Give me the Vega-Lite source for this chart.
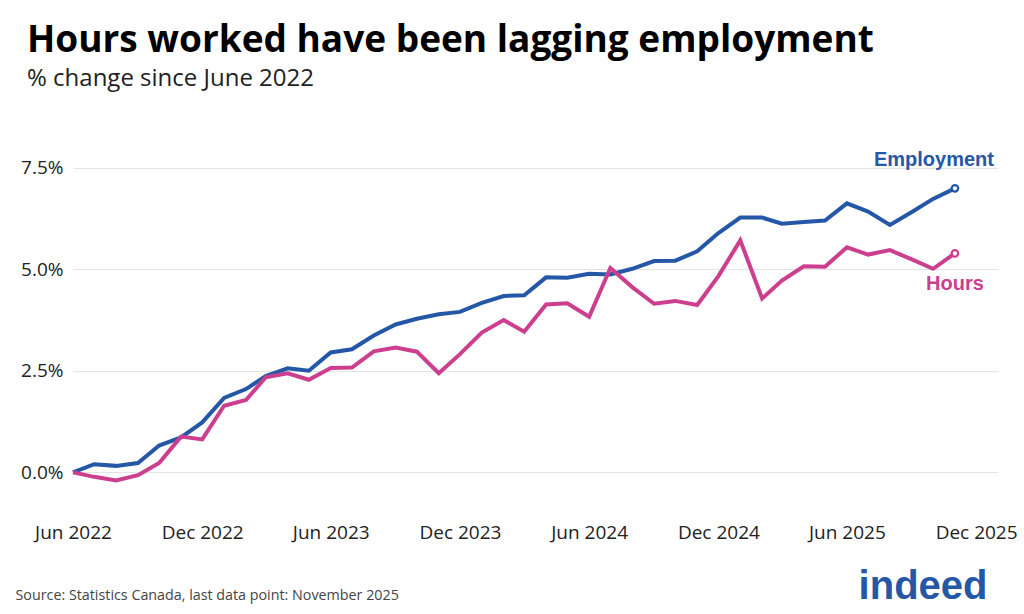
{
  "$schema": "https://vega.github.io/schema/vega-lite/v6.json",
  "width": 925,
  "height": 386,
  "autosize": {"type": "none"},
  "padding": {"left": 73, "top": 127, "right": 26, "bottom": 101},
  "background": "white",
  "title": {
    "text": "Hours worked have been lagging employment",
    "subtitle": "% change since June 2022",
    "anchor": "start",
    "frame": "group",
    "dx": -46,
    "font": "Open Sans",
    "fontSize": 37,
    "fontWeight": "bold",
    "color": "#000000",
    "subtitleFont": "Open Sans",
    "subtitleFontSize": 24,
    "subtitleColor": "#222222",
    "subtitlePadding": 7,
    "offset": 35
  },
  "data": {
    "values": [
      {"date": "2022-06-01", "Employment": 0.00, "Hours": 0.00},
      {"date": "2022-07-01", "Employment": 0.20, "Hours": -0.11},
      {"date": "2022-08-01", "Employment": 0.16, "Hours": -0.20},
      {"date": "2022-09-01", "Employment": 0.23, "Hours": -0.07},
      {"date": "2022-10-01", "Employment": 0.66, "Hours": 0.23},
      {"date": "2022-11-01", "Employment": 0.86, "Hours": 0.88},
      {"date": "2022-12-01", "Employment": 1.23, "Hours": 0.81},
      {"date": "2023-01-01", "Employment": 1.83, "Hours": 1.64},
      {"date": "2023-02-01", "Employment": 2.05, "Hours": 1.78},
      {"date": "2023-03-01", "Employment": 2.37, "Hours": 2.34},
      {"date": "2023-04-01", "Employment": 2.56, "Hours": 2.44},
      {"date": "2023-05-01", "Employment": 2.50, "Hours": 2.28},
      {"date": "2023-06-01", "Employment": 2.95, "Hours": 2.57},
      {"date": "2023-07-01", "Employment": 3.03, "Hours": 2.58},
      {"date": "2023-08-01", "Employment": 3.37, "Hours": 2.98},
      {"date": "2023-09-01", "Employment": 3.64, "Hours": 3.07},
      {"date": "2023-10-01", "Employment": 3.78, "Hours": 2.97},
      {"date": "2023-11-01", "Employment": 3.89, "Hours": 2.44},
      {"date": "2023-12-01", "Employment": 3.95, "Hours": 2.91},
      {"date": "2024-01-01", "Employment": 4.17, "Hours": 3.44},
      {"date": "2024-02-01", "Employment": 4.34, "Hours": 3.75},
      {"date": "2024-03-01", "Employment": 4.36, "Hours": 3.46},
      {"date": "2024-04-01", "Employment": 4.80, "Hours": 4.13},
      {"date": "2024-05-01", "Employment": 4.79, "Hours": 4.16},
      {"date": "2024-06-01", "Employment": 4.89, "Hours": 3.83},
      {"date": "2024-07-01", "Employment": 4.87, "Hours": 5.03},
      {"date": "2024-08-01", "Employment": 5.01, "Hours": 4.56},
      {"date": "2024-09-01", "Employment": 5.20, "Hours": 4.15},
      {"date": "2024-10-01", "Employment": 5.21, "Hours": 4.22},
      {"date": "2024-11-01", "Employment": 5.44, "Hours": 4.12},
      {"date": "2024-12-01", "Employment": 5.89, "Hours": 4.83},
      {"date": "2025-01-01", "Employment": 6.27, "Hours": 5.71},
      {"date": "2025-02-01", "Employment": 6.27, "Hours": 4.28},
      {"date": "2025-03-01", "Employment": 6.12, "Hours": 4.72},
      {"date": "2025-04-01", "Employment": 6.16, "Hours": 5.07},
      {"date": "2025-05-01", "Employment": 6.20, "Hours": 5.06},
      {"date": "2025-06-01", "Employment": 6.62, "Hours": 5.54},
      {"date": "2025-07-01", "Employment": 6.42, "Hours": 5.36},
      {"date": "2025-08-01", "Employment": 6.09, "Hours": 5.47},
      {"date": "2025-09-01", "Employment": 6.41, "Hours": 5.24},
      {"date": "2025-10-01", "Employment": 6.73, "Hours": 5.01},
      {"date": "2025-11-01", "Employment": 6.99, "Hours": 5.39}
    ]
  },
  "transform": [{"fold": ["Employment", "Hours"], "as": ["series", "value"]}],
  "encoding": {
    "x": {
      "field": "date",
      "type": "temporal",
      "scale": {
        "type": "utc",
        "domain": [
          {"year": 2022, "month": 6, "date": 1, "utc": true},
          {"year": 2026, "month": 1, "date": 1, "utc": true}
        ]
      },
      "axis": {
        "values": [
          {"year": 2022, "month": 6, "date": 1, "utc": true},
          {"year": 2022, "month": 12, "date": 1, "utc": true},
          {"year": 2023, "month": 6, "date": 1, "utc": true},
          {"year": 2023, "month": 12, "date": 1, "utc": true},
          {"year": 2024, "month": 6, "date": 1, "utc": true},
          {"year": 2024, "month": 12, "date": 1, "utc": true},
          {"year": 2025, "month": 6, "date": 1, "utc": true},
          {"year": 2025, "month": 12, "date": 1, "utc": true}
        ],
        "labelExpr": "utcFormat(datum.value, '%b %Y')",
        "grid": false,
        "domain": false,
        "ticks": false,
        "labelFlush": false,
        "labelPadding": 10,
        "labelFont": "Open Sans",
        "labelFontSize": 19,
        "labelColor": "#222222",
        "title": "Source: Statistics Canada, last data point: November 2025",
        "titleFont": "Open Sans",
        "titleFontSize": 14.3,
        "titleFontWeight": "normal",
        "titleColor": "#444444",
        "titleAlign": "left",
        "titleAnchor": "start",
        "titleBaseline": "alphabetic",
        "titleX": -58,
        "titleY": 86
      }
    },
    "y": {
      "field": "value",
      "type": "quantitative",
      "scale": {"domain": [-1, 8.5], "nice": false, "zero": false},
      "axis": {
        "values": [0, 2.5, 5, 7.5],
        "labelExpr": "format(datum.value, '.1f') + '%'",
        "grid": true,
        "gridColor": "#e3e3e3",
        "gridWidth": 1,
        "domain": false,
        "ticks": false,
        "labelPadding": 10,
        "labelFont": "Open Sans",
        "labelFontSize": 19,
        "labelColor": "#222222",
        "title": "indeed",
        "titleAngle": 0,
        "titleFont": "Liberation Sans",
        "titleFontSize": 40,
        "titleFontWeight": "bold",
        "titleColor": "#2557a7",
        "titleAlign": "right",
        "titleBaseline": "alphabetic",
        "titleX": 914,
        "titleY": 471
      }
    },
    "color": {
      "field": "series",
      "type": "nominal",
      "scale": {"domain": ["Employment", "Hours"], "range": ["#2557a7", "#cc3f8e"]},
      "legend": null
    }
  },
  "layer": [
    {"mark": {"type": "line", "strokeWidth": 4, "clip": false}},
    {
      "transform": [{"filter": "utcyear(datum.date) == 2025 && utcmonth(datum.date) == 10"}],
      "mark": {"type": "point", "shape": "circle", "filled": false, "fill": "white", "fillOpacity": 1, "strokeWidth": 2.2, "size": 42, "opacity": 1}
    },
    {
      "transform": [{"filter": "utcyear(datum.date) == 2025 && utcmonth(datum.date) == 10 && datum.series == 'Employment'"}],
      "mark": {"type": "text", "align": "right", "baseline": "middle", "dx": 39, "dy": -28, "font": "Liberation Sans", "fontSize": 20, "fontWeight": "bold"},
      "encoding": {"text": {"field": "series"}}
    },
    {
      "transform": [{"filter": "utcyear(datum.date) == 2025 && utcmonth(datum.date) == 10 && datum.series == 'Hours'"}],
      "mark": {"type": "text", "align": "center", "baseline": "middle", "dx": 0, "dy": 31, "font": "Liberation Sans", "fontSize": 20, "fontWeight": "bold"},
      "encoding": {"text": {"field": "series"}}
    }
  ],
  "config": {"view": {"stroke": null}}
}
